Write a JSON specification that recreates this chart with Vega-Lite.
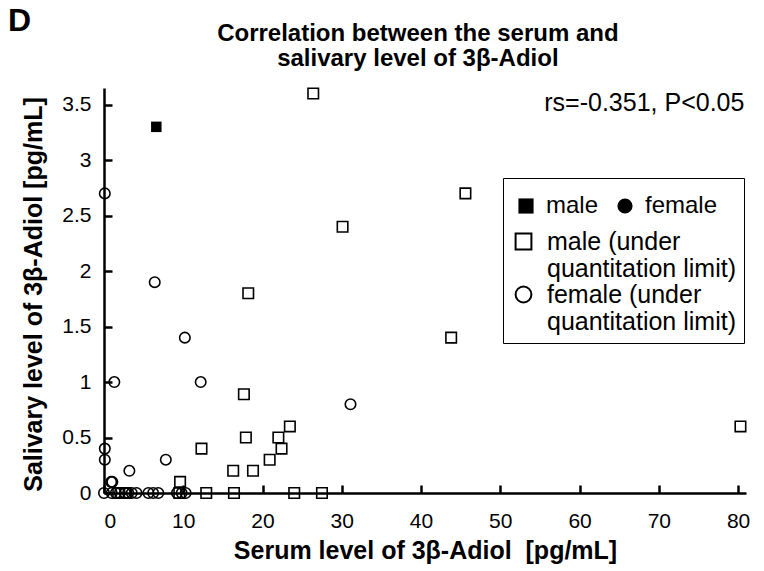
{
  "$schema": "https://vega.github.io/schema/vega-lite/v6.json",
  "width": 642,
  "height": 405,
  "autosize": {"type": "none"},
  "padding": {"left": 104, "top": 88, "right": 18, "bottom": 78},
  "background": "white",
  "config": {
    "view": {"stroke": null},
    "font": "Liberation Sans",
    "axis": {
      "grid": false,
      "domainColor": "black",
      "domainWidth": 2.5,
      "tickColor": "black",
      "tickWidth": 2.5,
      "tickSize": -8,
      "labelColor": "black",
      "labelFont": "Liberation Sans",
      "labelFontSize": 21,
      "titleColor": "black",
      "titleFont": "Liberation Sans",
      "titleFontSize": 25,
      "titleFontWeight": "bold"
    }
  },
  "data": {
    "values": [
      {"serum": 6.6, "saliva": 3.3, "group": "male"},
      {"serum": 26.4, "saliva": 3.6, "group": "male (under quantitation limit)"},
      {"serum": 45.6, "saliva": 2.7, "group": "male (under quantitation limit)"},
      {"serum": 30.1, "saliva": 2.4, "group": "male (under quantitation limit)"},
      {"serum": 18.2, "saliva": 1.8, "group": "male (under quantitation limit)"},
      {"serum": 43.8, "saliva": 1.4, "group": "male (under quantitation limit)"},
      {"serum": 17.65, "saliva": 0.89, "group": "male (under quantitation limit)"},
      {"serum": 80.3, "saliva": 0.6, "group": "male (under quantitation limit)"},
      {"serum": 23.45, "saliva": 0.6, "group": "male (under quantitation limit)"},
      {"serum": 17.9, "saliva": 0.5, "group": "male (under quantitation limit)"},
      {"serum": 22.0, "saliva": 0.5, "group": "male (under quantitation limit)"},
      {"serum": 22.4, "saliva": 0.4, "group": "male (under quantitation limit)"},
      {"serum": 12.3, "saliva": 0.4, "group": "male (under quantitation limit)"},
      {"serum": 20.9, "saliva": 0.3, "group": "male (under quantitation limit)"},
      {"serum": 16.3, "saliva": 0.2, "group": "male (under quantitation limit)"},
      {"serum": 18.8, "saliva": 0.2, "group": "male (under quantitation limit)"},
      {"serum": 9.6, "saliva": 0.1, "group": "male (under quantitation limit)"},
      {"serum": 9.5, "saliva": 0, "group": "male (under quantitation limit)"},
      {"serum": 12.9, "saliva": 0, "group": "male (under quantitation limit)"},
      {"serum": 16.4, "saliva": 0, "group": "male (under quantitation limit)"},
      {"serum": 24.0, "saliva": 0, "group": "male (under quantitation limit)"},
      {"serum": 27.5, "saliva": 0, "group": "male (under quantitation limit)"},
      {"serum": 1.8, "saliva": 0, "group": "male (under quantitation limit)"},
      {"serum": 2.7, "saliva": 0, "group": "male (under quantitation limit)"},
      {"serum": 0.1, "saliva": 2.7, "group": "female (under quantitation limit)"},
      {"serum": 6.4, "saliva": 1.9, "group": "female (under quantitation limit)"},
      {"serum": 10.2, "saliva": 1.4, "group": "female (under quantitation limit)"},
      {"serum": 1.3, "saliva": 1.0, "group": "female (under quantitation limit)"},
      {"serum": 12.2, "saliva": 1.0, "group": "female (under quantitation limit)"},
      {"serum": 31.1, "saliva": 0.8, "group": "female (under quantitation limit)"},
      {"serum": 7.8, "saliva": 0.3, "group": "female (under quantitation limit)"},
      {"serum": 3.2, "saliva": 0.2, "group": "female (under quantitation limit)"},
      {"serum": 0.1, "saliva": 0.4, "group": "female (under quantitation limit)"},
      {"serum": 0.1, "saliva": 0.3, "group": "female (under quantitation limit)"},
      {"serum": 0.9, "saliva": 0.1, "group": "female (under quantitation limit)"},
      {"serum": 1.05, "saliva": 0.1, "group": "female (under quantitation limit)"},
      {"serum": 0, "saliva": 0, "group": "female (under quantitation limit)"},
      {"serum": 0.97, "saliva": 0, "group": "female (under quantitation limit)"},
      {"serum": 1.5, "saliva": 0, "group": "female (under quantitation limit)"},
      {"serum": 2.0, "saliva": 0, "group": "female (under quantitation limit)"},
      {"serum": 2.65, "saliva": 0, "group": "female (under quantitation limit)"},
      {"serum": 3.06, "saliva": 0, "group": "female (under quantitation limit)"},
      {"serum": 3.5, "saliva": 0, "group": "female (under quantitation limit)"},
      {"serum": 4.1, "saliva": 0, "group": "female (under quantitation limit)"},
      {"serum": 5.6, "saliva": 0, "group": "female (under quantitation limit)"},
      {"serum": 6.2, "saliva": 0, "group": "female (under quantitation limit)"},
      {"serum": 6.85, "saliva": 0, "group": "female (under quantitation limit)"},
      {"serum": 9.2, "saliva": 0, "group": "female (under quantitation limit)"},
      {"serum": 9.8, "saliva": 0, "group": "female (under quantitation limit)"},
      {"serum": 10.3, "saliva": 0, "group": "female (under quantitation limit)"}
    ]
  },
  "layer": [
    {
      "transform": [{"filter": "indexof(datum.group, 'under') < 0"}],
      "mark": {"type": "point", "filled": true, "color": "black", "size": 110, "opacity": 1},
      "encoding": {
        "x": {
          "field": "serum", "type": "quantitative",
          "scale": {"domain": [0, 81], "nice": false, "zero": false},
          "axis": {"title": "Serum level of 3β-Adiol\u00a0 [pg/mL]", "values": [0, 10, 20, 30, 40, 50, 60, 70, 80], "labelPadding": 25, "titleY": 65, "titleBaseline": "alphabetic"}
        },
        "y": {
          "field": "saliva", "type": "quantitative",
          "scale": {"domain": [0, 3.65], "nice": false, "zero": false},
          "axis": {"title": "Salivary level of 3β-Adiol [pg/mL]", "values": [0, 0.5, 1, 1.5, 2, 2.5, 3, 3.5], "labelExpr": "'' + datum.value", "labelPadding": 21, "titleX": -63, "titleY": 206, "titleBaseline": "alphabetic"}
        },
        "shape": {
          "field": "group", "type": "nominal",
          "scale": {"domain": ["male", "female"], "range": ["square", "circle"]},
          "legend": {
            "orient": "none", "legendX": 410, "legendY": 106, "direction": "horizontal",
            "title": null, "labelFontSize": 24, "labelFont": "Liberation Sans", "labelColor": "black",
            "symbolSize": 230, "symbolFillColor": "black", "symbolStrokeColor": "black",
            "columnPadding": 14, "labelOffset": 8, "padding": 0
          }
        }
      }
    },
    {
      "transform": [{"filter": "indexof(datum.group, 'under') >= 0"}],
      "mark": {"type": "point", "filled": false, "color": "black", "strokeWidth": 1.6, "size": 110, "opacity": 1},
      "encoding": {
        "x": {"field": "serum", "type": "quantitative"},
        "y": {"field": "saliva", "type": "quantitative"},
        "shape": {
          "field": "group", "type": "nominal",
          "scale": {"domain": ["male (under quantitation limit)", "female (under quantitation limit)"], "range": ["square", "circle"]},
          "legend": {
            "orient": "none", "legendX": 399, "legendY": 90, "direction": "vertical",
            "title": " ", "titleFontSize": 22, "titlePadding": 21,
            "labelFontSize": 25, "labelFont": "Liberation Sans", "labelColor": "black", "labelLimit": 400,
            "labelExpr": "[replace(datum.label, ' quantitation limit)', ''), 'quantitation limit)']",
            "symbolSize": 250, "symbolFillColor": "white", "symbolStrokeColor": "black", "symbolStrokeWidth": 2,
            "strokeColor": "black", "padding": 8, "rowPadding": 0, "labelOffset": 11
          }
        }
      }
    },
    {
      "data": {"values": [{}]},
      "mark": {"type": "text", "text": "D", "fontSize": 32, "fontWeight": "bold", "font": "Liberation Sans", "align": "left", "baseline": "alphabetic", "fill": "black"},
      "encoding": {
        "x": {"datum": -12.1, "type": "quantitative"},
        "y": {"datum": 4.16, "type": "quantitative"}
      }
    },
    {
      "data": {"values": [{}]},
      "mark": {"type": "text", "text": ["Correlation between the serum and", "salivary level of 3β-Adiol"], "fontSize": 24, "fontWeight": "bold", "font": "Liberation Sans", "align": "center", "baseline": "alphabetic", "lineHeight": 25, "fill": "black"},
      "encoding": {
        "x": {"datum": 39.6, "type": "quantitative"},
        "y": {"datum": 4.07, "type": "quantitative"}
      }
    },
    {
      "data": {"values": [{}]},
      "mark": {"type": "text", "text": "rs=-0.351, P<0.05", "fontSize": 25, "font": "Liberation Sans", "align": "right", "baseline": "alphabetic", "fill": "black"},
      "encoding": {
        "x": {"datum": 80.8, "type": "quantitative"},
        "y": {"datum": 3.44, "type": "quantitative"}
      }
    }
  ],
  "resolve": {"scale": {"shape": "independent"}, "legend": {"shape": "independent"}}
}
